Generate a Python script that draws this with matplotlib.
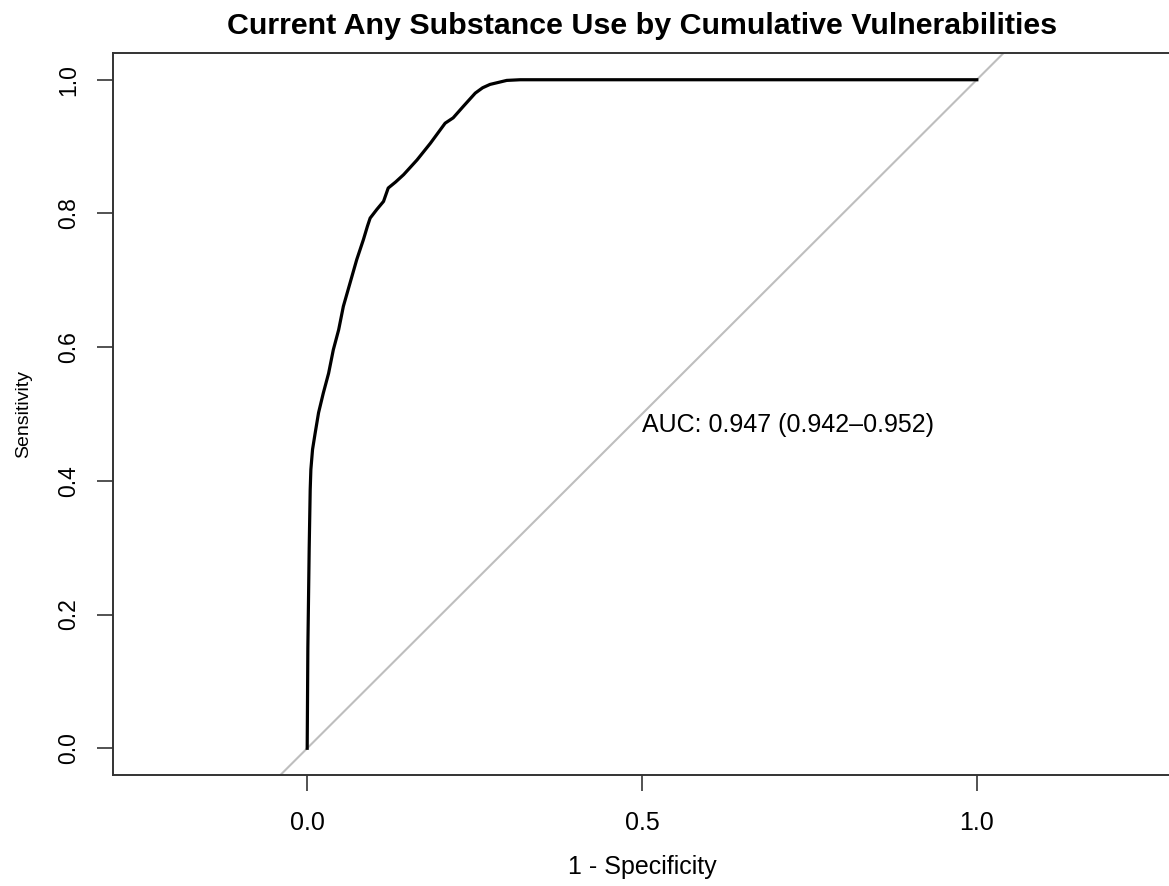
import matplotlib
matplotlib.use("Agg")
import matplotlib.pyplot as plt

plt.rcParams['font.family'] = ['Liberation Sans', 'DejaVu Sans']

# ROC curve points (1 - specificity, sensitivity)
fpr = [0.0, 0.001, 0.003, 0.0045, 0.0055, 0.008, 0.012, 0.017, 0.024, 0.032,
       0.039, 0.047, 0.054, 0.064, 0.074, 0.084, 0.090, 0.094, 0.104, 0.114,
       0.121, 0.132, 0.144, 0.164, 0.184, 0.206, 0.218, 0.233, 0.251, 0.262,
       0.273, 0.298, 0.318, 1.0]
tpr = [0.0, 0.15, 0.30, 0.387, 0.417, 0.447, 0.472, 0.502, 0.531, 0.561,
       0.596, 0.626, 0.661, 0.696, 0.731, 0.761, 0.781, 0.793, 0.806, 0.818,
       0.838, 0.847, 0.858, 0.880, 0.905, 0.935, 0.943, 0.960, 0.980, 0.988,
       0.993, 0.999, 1.0, 1.0]

auc_label = "AUC: 0.947 (0.942\u20130.952)"
x_ticks = [0.0, 0.5, 1.0]
y_ticks = [0.0, 0.2, 0.4, 0.6, 0.8, 1.0]

W, H = 1169, 886
fig = plt.figure(figsize=(W / 100, H / 100), dpi=100)
left, right, top, bottom = 113, 1171, 53, 775
ax = fig.add_axes([left / W, 1 - bottom / H, (right - left) / W, (bottom - top) / H])

ax.axline((0, 0), (1, 1), color='#bebebe', lw=1.5, zorder=1)
ax.plot(fpr, tpr, color='black', lw=2.3, zorder=3, solid_joinstyle='round')

ax.set_xlim(-0.29, 1.29)
ax.set_ylim(-0.04, 1.04)
ax.set_xticks(x_ticks)
ax.set_xticklabels(['0.0', '0.5', '1.0'])
ax.set_yticks(y_ticks)
ax.set_yticklabels(['0.0', '0.2', '0.4', '0.6', '0.8', '1.0'], rotation=90, va='center')

for s in ax.spines.values():
    s.set_color('#333333')
    s.set_linewidth(1.4)
ax.tick_params(axis='both', length=11.5, width=1.3, color='#444444')
ax.tick_params(axis='x', pad=14.5, labelsize=18)
ax.tick_params(axis='y', pad=12, labelsize=16.5)

ax.text(0.5, 0.484, auc_label, ha='left', va='center', fontsize=18)

ax.set_title("Current Any Substance Use by Cumulative Vulnerabilities",
             fontsize=21.9, fontweight='bold', pad=14)
ax.set_xlabel("1 - Specificity", fontsize=18, labelpad=14)
ax.set_ylabel("Sensitivity", fontsize=14, labelpad=18)

fig.savefig("out.png", dpi=100)
